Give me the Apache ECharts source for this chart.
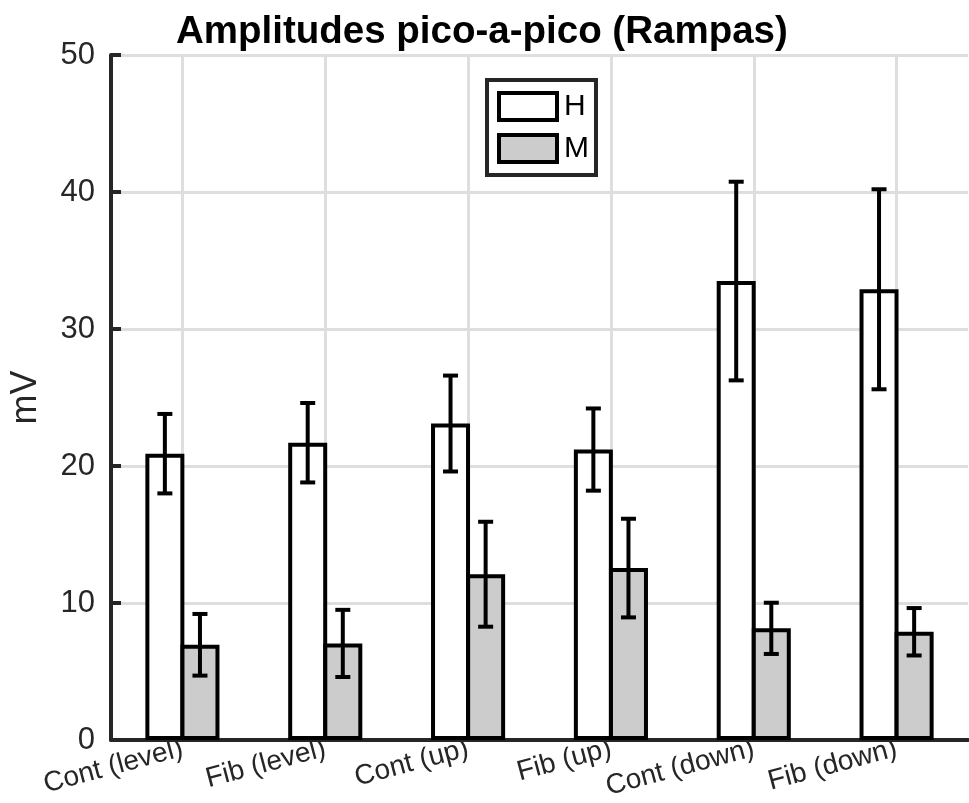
<!DOCTYPE html>
<html>
<head>
<meta charset="utf-8">
<script src="https://cdn.jsdelivr.net/npm/echarts@6/dist/echarts.min.js"></script>
<style>
html,body{margin:0;padding:0;background:#fff;}
#chart{width:969px;height:803px;}
</style>
</head>
<body>
<div id="chart"></div>
<script>
const categories = ['Cont (level)', 'Fib (level)', 'Cont (up)', 'Fib (up)', 'Cont (down)', 'Fib (down)'];
const hMean = [20.9, 21.7, 23.1, 21.2, 33.5, 32.9];
const hErr  = [2.9, 2.9, 3.5, 3.0, 7.25, 7.3];
const mMean = [6.95, 7.05, 12.1, 12.55, 8.15, 7.9];
const mErr  = [2.25, 2.45, 3.83, 3.6, 1.87, 1.73];
const yTicks = [0, 10, 20, 30, 40, 50];

const FONT = '"Liberation Sans", Arial, Helvetica, sans-serif';
const AX = '#262626';
const GRIDC = '#dedede';
const BAR_W = 39;
const GAP_FRAC = -0.1;
const HALF_STEP = (BAR_W + GAP_FRAC * BAR_W) / 2;

function errData(mean, err) {
  return mean.map((m, i) => [i, m - err[i], m + err[i]]);
}
function errRenderer(offset) {
  return function (params, api) {
    const lo = api.coord([api.value(0), api.value(1)]);
    const hi = api.coord([api.value(0), api.value(2)]);
    const cx = lo[0] + offset;
    const cap = 7.5;
    const st = { stroke: '#000', lineWidth: 4, lineCap: 'butt' };
    return {
      type: 'group',
      children: [
        { type: 'line', shape: { x1: cx, y1: hi[1], x2: cx, y2: lo[1] }, style: st },
        { type: 'line', shape: { x1: cx - cap, y1: hi[1], x2: cx + cap, y2: hi[1] }, style: st },
        { type: 'line', shape: { x1: cx - cap, y1: lo[1], x2: cx + cap, y2: lo[1] }, style: st }
      ]
    };
  };
}

const chart = echarts.init(document.getElementById('chart'), null, { renderer: 'canvas' });
chart.setOption({
  animation: false,
  backgroundColor: '#fff',
  textStyle: { fontFamily: FONT },
  title: {
    text: 'Amplitudes pico-a-pico (Rampas)',
    left: 171, top: 8,
    textStyle: { fontFamily: FONT, fontWeight: 'bold', fontSize: 38.5, color: '#000' }
  },
  legend: {
    data: ['H', 'M'],
    orient: 'vertical',
    left: 487, top: 80,
    padding: [11, 7, 11, 10],
    itemGap: 11,
    itemWidth: 58, itemHeight: 27,
    icon: 'rect',
    backgroundColor: '#fff',
    borderColor: AX, borderWidth: 4,
    itemStyle: { borderColor: '#000', borderWidth: 4 },
    textStyle: { fontFamily: FONT, fontSize: 30, color: '#000', lineHeight: 30, padding: [0, 0, 0, 2] }
  },
  grid: { left: 108, right: 1, top: 55, bottom: 63, containLabel: false },
  xAxis: {
    type: 'category',
    data: categories,
    axisLine: { show: true, lineStyle: { color: AX, width: 4 } },
    axisTick: { show: false },
    axisLabel: { rotate: 15, fontSize: 28, color: AX, margin: 8, fontFamily: FONT, interval: 0 },
    splitLine: { show: false }
  },
  yAxis: {
    type: 'value',
    min: yTicks[0], max: yTicks[yTicks.length - 1], interval: yTicks[1] - yTicks[0],
    name: 'mV',
    nameLocation: 'middle',
    nameGap: 67,
    nameTextStyle: { fontSize: 36, color: AX, fontFamily: FONT },
    axisLine: { show: true, lineStyle: { color: AX, width: 4 } },
    axisTick: { show: true, inside: true, length: 10, lineStyle: { color: AX, width: 4 } },
    axisLabel: { fontSize: 31, color: AX, margin: 16, fontFamily: FONT },
    splitLine: { show: true, lineStyle: { color: GRIDC, width: 3 } }
  },
  series: [
    {
      name: 'vgrid',
      type: 'line',
      data: categories.map(() => null),
      showSymbol: false,
      silent: true,
      z: 0,
      markLine: {
        z: 0,
        silent: true,
        symbol: 'none',
        label: { show: false },
        lineStyle: { color: GRIDC, width: 3, type: 'solid' },
        data: categories.map(c => ({ xAxis: c }))
      }
    },
    {
      name: 'H',
      type: 'bar',
      data: hMean,
      barWidth: BAR_W,
      barGap: (GAP_FRAC * 100) + '%',
      z: 3,
      itemStyle: { color: '#ffffff', borderColor: '#000', borderWidth: 4 }
    },
    {
      name: 'M',
      type: 'bar',
      data: mMean,
      barWidth: BAR_W,
      barGap: (GAP_FRAC * 100) + '%',
      z: 3,
      itemStyle: { color: '#cccccc', borderColor: '#000', borderWidth: 4 }
    },
    {
      name: 'H err',
      type: 'custom',
      data: errData(hMean, hErr),
      renderItem: errRenderer(-HALF_STEP),
      encode: { x: 0, y: [1, 2] },
      z: 4,
      silent: true
    },
    {
      name: 'M err',
      type: 'custom',
      data: errData(mMean, mErr),
      renderItem: errRenderer(HALF_STEP),
      encode: { x: 0, y: [1, 2] },
      z: 4,
      silent: true
    }
  ]
});
</script>
</body>
</html>
